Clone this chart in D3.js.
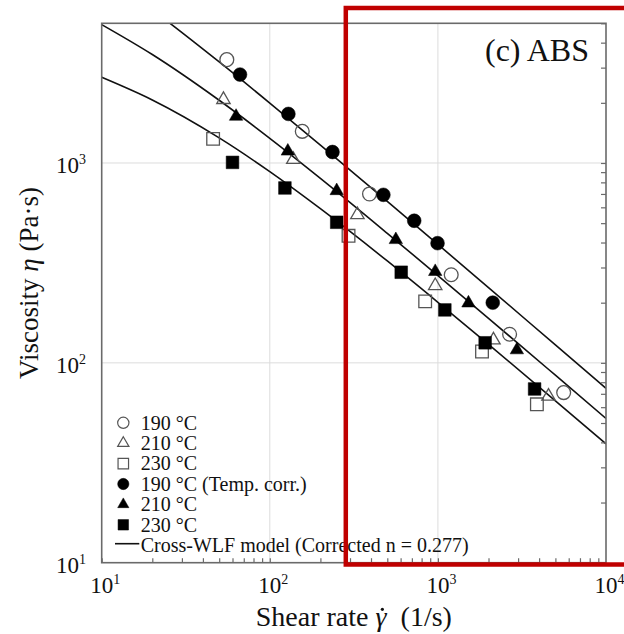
<!DOCTYPE html>
<html><head><meta charset="utf-8">
<script src="https://cdn.jsdelivr.net/npm/d3@7"></script>
<style>
html,body{margin:0;padding:0;background:#fff;}
text{font-family:"Liberation Serif","Times New Roman",serif;fill:#111;}
</style></head>
<body><svg id="c" width="624" height="634"></svg>
<script>
// ---- data ----
const shear190 = [55.5, 156, 392, 1200, 2670, 5600];
const visc190  = [3290, 1440, 700, 276, 139, 71];
const shear210 = [53, 138, 332, 964, 2140, 4550];
const visc210  = [2075, 1040, 551, 243, 130, 68];
const shear230 = [46, 294, 840, 1830, 3880];
const visc230  = [1320, 432, 203, 114, 62];
const shear190c = [66.5, 129, 236, 474, 723, 995, 2120];
const visc190c  = [2770, 1760, 1135, 693, 514, 397, 200];
const shear210c = [63, 128, 250, 562, 964, 1520, 2950];
const visc210c  = [1710, 1145, 726, 413, 286, 199, 116];
const shear230c = [60, 123, 250, 605, 1100, 1910, 3760];
const visc230c  = [1007, 750, 505, 284, 184, 126, 74];
// Cross-WLF model curves
const modelShear = [10, 20, 50, 100, 200, 500, 1000, 2000, 5000, 10000];
const model190 = [8905, 5837, 3203, 1995, 1230, 642.5, 391.3, 238, 122.9, 74.6];
const model210 = [4927, 3491, 2060, 1329, 838, 445, 273.5, 167.1, 86.7, 52.7];
const model230 = [2683, 2066, 1335, 905, 590.5, 323.3, 200.9, 123.7, 64.6, 39.3];
// ticks
const xMajor = [10, 100, 1000, 10000];
const xMajorExp = ["1", "2", "3", "4"];
const yMajor = [10, 100, 1000];
const yMajorExp = ["1", "2", "3"];
const legendLabels = ["190 \u00B0C", "210 \u00B0C", "230 \u00B0C", "190 \u00B0C (Temp. corr.)", "210 \u00B0C", "230 \u00B0C"];
const modelLabel = "Cross-WLF model (Corrected n = 0.277)";
const panelTitle = "(c) ABS";

const svg = d3.select("#c");
const L = 101.7, R = 606, T = 23.3, B = 562.7;
const x = d3.scaleLog().domain([10, 10000]).range([L, R]);
const y = d3.scaleLog().domain([10, 5000]).range([B, T]);

function minors(lo, hi) {
  const out = [];
  for (let d = lo; d < hi; d *= 10) for (let k = 1; k <= 9; k++) { const v = d * k; if (v <= hi) out.push(v); }
  return out;
}

// grid
const grid = svg.append("g");
grid.selectAll("line.gx").data([100, 1000]).join("line")
  .attr("x1", d => x(d)).attr("x2", d => x(d)).attr("y1", T).attr("y2", B)
  .attr("stroke", "#dcdcdc").attr("stroke-width", 1);
grid.selectAll("line.gy").data([100, 1000]).join("line")
  .attr("y1", d => y(d)).attr("y2", d => y(d)).attr("x1", L).attr("x2", R)
  .attr("stroke", "#dcdcdc").attr("stroke-width", 1);

// clip
svg.append("clipPath").attr("id", "clip").append("rect")
  .attr("x", L).attr("y", T).attr("width", R - L).attr("height", B - T);

// model lines
const line = d3.line().x(d => x(d[0])).y(d => y(d[1])).curve(d3.curveMonotoneX);
const lineG = svg.append("g").attr("clip-path", "url(#clip)");
[model190, model210, model230].forEach(m => {
  lineG.append("path").datum(modelShear.map((s, i) => [s, m[i]]))
    .attr("d", line).attr("fill", "none").attr("stroke", "#111").attr("stroke-width", 1.6);
});

// markers
const sym = {
  circle: d3.symbol().type(d3.symbolCircle).size(150),
  triangle: d3.symbol().type(d3.symbolTriangle).size(78),
  square: d3.symbol().type(d3.symbolSquare).size(160)
};
const series = [
  { xs: shear190, ys: visc190, s: "circle", open: true },
  { xs: shear210, ys: visc210, s: "triangle", open: true },
  { xs: shear230, ys: visc230, s: "square", open: true },
  { xs: shear190c, ys: visc190c, s: "circle", open: false },
  { xs: shear210c, ys: visc210c, s: "triangle", open: false },
  { xs: shear230c, ys: visc230c, s: "square", open: false }
];
const mk = svg.append("g");
series.forEach(se => {
  mk.append("g").selectAll("path").data(se.xs.map((v, i) => [v, se.ys[i]])).join("path")
    .attr("d", sym[se.s]())
    .attr("transform", d => `translate(${x(d[0])},${y(d[1])})`)
    .attr("fill", se.open ? "none" : "#000")
    .attr("stroke", se.open ? "#555" : "#000")
    .attr("stroke-width", se.open ? 1.3 : 0.5);
});

// frame
svg.append("rect").attr("x", L).attr("y", T).attr("width", R - L).attr("height", B - T)
  .attr("fill", "none").attr("stroke", "#6a6a6a").attr("stroke-width", 1.6);

// bottom axis ticks (inward)
const xAx = svg.append("g").attr("transform", `translate(0,${B})`)
  .call(d3.axisBottom(x).tickValues(minors(10, 10000)).tickSizeInner(-4.5).tickSizeOuter(0).tickFormat(""));
xAx.select(".domain").remove();
xAx.selectAll("line").attr("stroke", "#6a6a6a").attr("stroke-width", 1.2);

// right axis ticks (inward)
const yAx = svg.append("g").attr("transform", `translate(${R},0)`)
  .call(d3.axisLeft(y).tickValues(minors(10, 5000)).tickSizeInner(5).tickSizeOuter(0).tickFormat(""));
yAx.select(".domain").remove();
yAx.selectAll("line").attr("stroke", "#6a6a6a").attr("stroke-width", 1.2);

// x tick labels
const xl = svg.append("g");
xMajor.forEach((v, i) => {
  const t = xl.append("text").attr("x", x(v) - 11.5).attr("y", 593).attr("font-size", 23);
  t.append("tspan").text("10");
  t.append("tspan").attr("font-size", 14).attr("dy", -9).text(xMajorExp[i]);
});
// y tick labels
const yl = svg.append("g");
yMajor.forEach((v, i) => {
  const t = yl.append("text").attr("x", 86).attr("y", y(v) + 10).attr("font-size", 23).attr("text-anchor", "end");
  t.append("tspan").text("10");
  t.append("tspan").attr("font-size", 14).attr("dy", -9).text(yMajorExp[i]);
});

// axis titles
const xt = svg.append("text").attr("x", (L + R) / 2).attr("y", 626).attr("text-anchor", "middle").attr("font-size", 28);
xt.append("tspan").text("Shear rate ");
const gam = xt.append("tspan").attr("font-style", "italic").text("\u03B3");
xt.append("tspan").text("\u00A0\u00A0(1/s)");
// overdot on gamma, positioned from the rendered glyph
{
  const node = xt.node();
  const idx = "Shear rate ".length;
  const ext = node.getExtentOfChar(idx);
  svg.append("circle").attr("cx", ext.x + ext.width * 0.62).attr("cy", ext.y + ext.height * 0.27)
    .attr("r", 1.6).attr("fill", "#111");
}
const yt = svg.append("text").attr("transform", `translate(38,${(T + B) / 2 - 10}) rotate(-90)`)
  .attr("text-anchor", "middle").attr("font-size", 27);
yt.append("tspan").text("Viscosity ");
yt.append("tspan").attr("font-style", "italic").text("\u03B7");
yt.append("tspan").text(" (Pa\u00B7s)");

// panel title
svg.append("text").attr("x", 589).attr("y", 61).attr("text-anchor", "end").attr("font-size", 32).text(panelTitle);

// legend
const lg = svg.append("g");
const lsym = {
  circle: d3.symbol().type(d3.symbolCircle).size(100),
  triangle: d3.symbol().type(d3.symbolTriangle).size(55),
  square: d3.symbol().type(d3.symbolSquare).size(110)
};
const ly0 = 422.8, lstep = 20.4;
series.forEach((se, i) => {
  const yy = ly0 + i * lstep;
  lg.append("path").attr("d", lsym[se.s]()).attr("transform", `translate(123.3,${yy})`)
    .attr("fill", se.open ? "none" : "#000").attr("stroke", se.open ? "#555" : "#000")
    .attr("stroke-width", se.open ? 1.2 : 0.5);
  lg.append("text").attr("x", 140.7).attr("y", yy + 6.8).attr("font-size", 20).text(legendLabels[i]);
});
const lyM = ly0 + 6 * lstep;
lg.append("line").attr("x1", 115).attr("x2", 139.3).attr("y1", lyM - 1.5).attr("y2", lyM - 1.5)
  .attr("stroke", "#111").attr("stroke-width", 1.6);
lg.append("text").attr("x", 140.7).attr("y", lyM + 6.8).attr("font-size", 20).text(modelLabel);

// red highlight box
svg.append("rect").attr("x", 345.8).attr("y", 8).attr("width", 320).attr("height", 556.5)
  .attr("fill", "none").attr("stroke", "#c00000").attr("stroke-width", 4.5);
</script></body></html>
